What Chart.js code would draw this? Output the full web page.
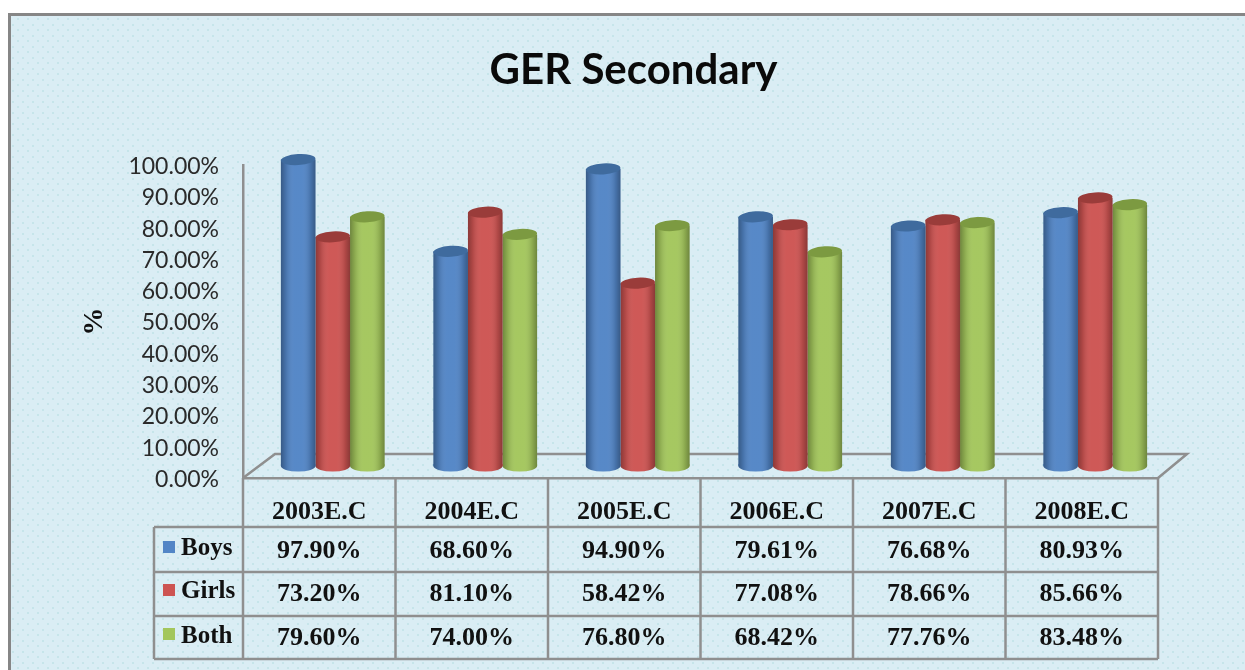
<!DOCTYPE html>
<html>
<head>
<meta charset="utf-8">
<style>html,body{margin:0;padding:0;background:#fff}#wrap{width:1245px;height:670px}canvas{display:block}</style>
<script src="https://cdn.jsdelivr.net/npm/chart.js@4/dist/chart.umd.min.js"></script>
</head>
<body>
<div id="wrap"><canvas id="c" width="1245" height="670"></canvas></div>
<script>
const categories = ['2003E.C','2004E.C','2005E.C','2006E.C','2007E.C','2008E.C'];
const boys  = [97.90,68.60,94.90,79.61,76.68,80.93];
const girls = [73.20,81.10,58.42,77.08,78.66,85.66];
const both  = [79.60,74.00,76.80,68.42,77.76,83.48];
const seriesNames = ['Boys','Girls','Both'];
const seriesColors = ['#5285c6','#cd5452','#a3c65c'];
const capColors = ['#3f6b9e','#9a3c3a','#7c9a41'];
const seriesValues = [boys,girls,both];

const GRID = '#8f8f8f';
const SERIF = '"Liberation Serif"';
const DEPTH_X = 13.5, DEPTH_Y = 12;
const ROW_LINES = [527,572,616,659];
const ROW_TEXT = [550,593,637];
const LABEL_Y = [549,592,637];
const TABLE_LEFT = 154;

function dotPattern(ctx){
  const p = document.createElement('canvas');
  p.width = 10; p.height = 11;
  const g = p.getContext('2d');
  g.fillStyle = '#daedf4'; g.fillRect(0,0,10,11);
  g.fillStyle = '#c6e5ea';
  g.fillRect(2,2,2,2);
  g.fillRect(7,7,2,2);
  return ctx.createPattern(p,'repeat');
}

const frame = {
  id:'frame',
  beforeDraw(chart){
    const c = chart.ctx;
    c.save();
    c.fillStyle = '#fff'; c.fillRect(0,0,chart.width,chart.height);
    c.fillStyle = dotPattern(c); c.fillRect(9,14,chart.width,chart.height);
    c.strokeStyle = '#868686'; c.lineWidth = 3;
    c.beginPath(); c.moveTo(9.5,chart.height+2); c.lineTo(9.5,14.5); c.lineTo(chart.width+2,14.5); c.stroke();
    c.restore();
  }
};

const cylinders = {
  id:'cylinders',
  beforeDatasetsDraw(chart){
    const c = chart.ctx, a = chart.chartArea;
    c.save();
    c.strokeStyle = GRID; c.lineWidth = 2.5; c.lineJoin='miter';
    c.beginPath();
    c.moveTo(a.left,a.bottom); c.lineTo(a.left+32,a.bottom-24);
    c.lineTo(a.right+29,a.bottom-24); c.lineTo(a.right,a.bottom);
    c.stroke();
    c.restore();
    c.save();
    c.translate(DEPTH_X,-DEPTH_Y);
  },
  afterDatasetDraw(chart,args){
    const c = chart.ctx, i = args.index;
    chart.getDatasetMeta(i).data.forEach(b=>{
      const w = b.width, l = b.x-w/2, r = b.x+w/2, ry = 5.5;
      const g = c.createLinearGradient(l,0,r,0);
      g.addColorStop(0,'rgba(0,0,0,0.32)');
      g.addColorStop(0.14,'rgba(0,0,0,0.14)');
      g.addColorStop(0.38,'rgba(255,255,255,0.03)');
      g.addColorStop(0.62,'rgba(255,255,255,0.03)');
      g.addColorStop(0.86,'rgba(0,0,0,0.14)');
      g.addColorStop(1,'rgba(0,0,0,0.32)');
      c.save();
      c.fillStyle = seriesColors[i];
      c.beginPath(); c.rect(l,b.base-2,w,2); c.ellipse(b.x,b.base,w/2,ry,0,0,Math.PI); c.fill();
      c.fillStyle = g;
      c.beginPath();
      c.moveTo(l,b.y); c.lineTo(r,b.y); c.lineTo(r,b.base);
      c.ellipse(b.x,b.base,w/2,ry,0,0,Math.PI); c.closePath(); c.fill();
      c.fillStyle = capColors[i];
      c.beginPath(); c.ellipse(b.x,b.y,w/2,ry,-0.06,0,Math.PI*2); c.fill();
      c.restore();
    });
  },
  afterDatasetsDraw(chart){
    chart.ctx.restore();
  }
};

const table = {
  id:'table',
  afterDraw(chart){
    const c = chart.ctx, a = chart.chartArea, xs = chart.scales.x;
    const band = (a.right-a.left)/categories.length;
    c.save();
    c.strokeStyle = GRID; c.lineWidth = 2.5;
    c.beginPath();
    for(let k=0;k<=categories.length;k++){
      const x = a.left+band*k;
      c.moveTo(x,a.bottom); c.lineTo(x,ROW_LINES[3]);
    }
    c.moveTo(TABLE_LEFT,ROW_LINES[0]); c.lineTo(TABLE_LEFT,ROW_LINES[3]);
    ROW_LINES.forEach(y=>{c.moveTo(TABLE_LEFT,y); c.lineTo(a.right,y);});
    c.stroke();
    c.textBaseline = 'middle';
    seriesValues.forEach((vals,r)=>{
      const y = ROW_TEXT[r];
      c.fillStyle = seriesColors[r];
      c.fillRect(163,y-9,12,12);
      c.fillStyle = '#111';
      c.textAlign = 'left';
      c.font = 'bold 25px '+SERIF;
      c.fillText(seriesNames[r],181,LABEL_Y[r]);
      c.textAlign = 'center';
      c.font = 'bold 26px '+SERIF;
      vals.forEach((v,k)=>c.fillText(v.toFixed(2)+'%',xs.getPixelForValue(k),y+1));
    });
    c.restore();
  }
};

new Chart(document.getElementById('c'),{
  type:'bar',
  data:{
    labels:categories,
    datasets:seriesNames.map((n,i)=>({
      label:n,
      data:seriesValues[i],
      backgroundColor:seriesColors[i],
      borderWidth:0,
      categoryPercentage:0.68,
      barPercentage:1,
      clip:false
    }))
  },
  plugins:[frame,cylinders,table],
  options:{
    responsive:false,
    animation:false,
    layout:{autoPadding:false,padding:{left:22,right:0,top:0,bottom:0}},
    plugins:{
      legend:{display:false},
      tooltip:{enabled:false},
      title:{
        display:true,
        text:'GER Secondary',
        color:'#0a0a0a',
        font:{family:'Lato',weight:'bold',size:42,lineHeight:1},
        padding:{top:49,bottom:74}
      }
    },
    scales:{
      x:{
        grid:{display:false,drawTicks:false},
        border:{color:GRID,width:2.5},
        ticks:{color:'#111',padding:19,autoSkip:false,maxRotation:0,font:{family:SERIF,weight:'bold',size:26}},
        afterFit(s){s.height=192;}
      },
      y:{
        min:0,max:100,
        grid:{display:false,drawTicks:false},
        border:{color:GRID,width:2.5},
        ticks:{stepSize:10,color:'#2a2a2a',padding:24,labelOffset:1.5,font:{family:'Lato',size:23},callback:v=>v.toFixed(2)+'%'},
        title:{display:true,text:'%',color:'#111',font:{family:SERIF,weight:'bold',size:28},padding:{top:56,bottom:0}},
        afterFit(s){s.width=221;}
      },
      y2:{
        position:'right',
        display:true,
        grid:{display:false,drawTicks:false},
        border:{display:false},
        ticks:{display:false},
        afterFit(s){s.width=87;}
      }
    }
  }
});
</script>
</body>
</html>
